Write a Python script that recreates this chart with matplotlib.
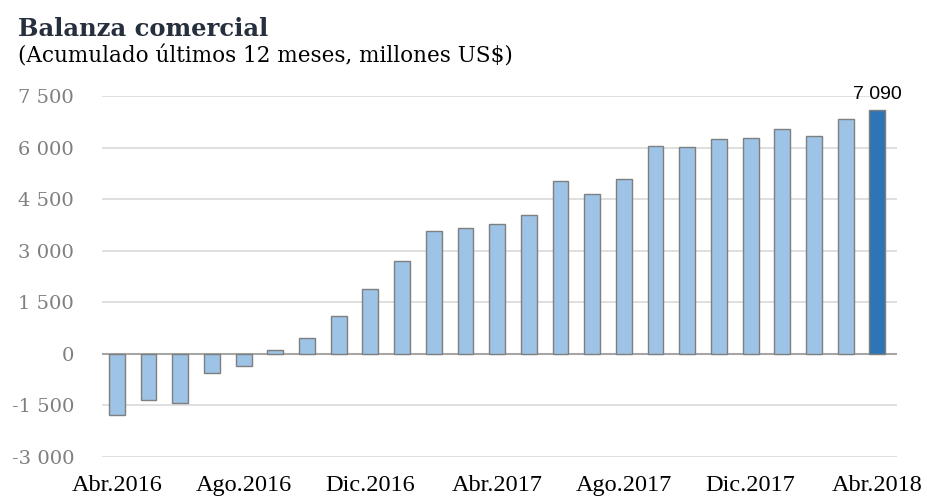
import numpy as np
import matplotlib.pyplot as plt

meses = ["Abr.2016", "May.2016", "Jun.2016", "Jul.2016", "Ago.2016", "Sep.2016",
         "Oct.2016", "Nov.2016", "Dic.2016", "Ene.2017", "Feb.2017", "Mar.2017",
         "Abr.2017", "May.2017", "Jun.2017", "Jul.2017", "Ago.2017", "Sep.2017",
         "Oct.2017", "Nov.2017", "Dic.2017", "Ene.2018", "Feb.2018", "Mar.2018",
         "Abr.2018"]
balanza = [-1785, -1330, -1425, -553, -350, 100, 466, 1090, 1875, 2709,
           3571, 3670, 3775, 4049, 5019, 4660, 5097, 6040, 6012, 6262,
           6274, 6545, 6332, 6845, 7090]
yticks = [-3000, -1500, 0, 1500, 3000, 4500, 6000, 7500]
ytick_labels = ["-3 000", "-1 500", "0", "1 500", "3 000", "4 500", "6 000", "7 500"]

fig = plt.figure(figsize=(9.27, 5.0), dpi=100)
ax = fig.add_axes([0.110, 0.086, 0.858, 0.722])

x = np.arange(len(balanza))
colors = ["#9dc3e6"] * (len(balanza) - 1) + ["#2e75b6"]
ax.bar(x, balanza, width=0.5, color=colors, edgecolor="#7f7f7f", linewidth=1.0, zorder=3)

ax.set_ylim(-3000, 7500)
ax.set_xlim(-0.47, 24.63)
ax.set_yticks(yticks)
ax.set_yticklabels(ytick_labels, fontfamily="DejaVu Serif", fontsize=14, color="#7f7f7f")
ax.set_xticks(x[::4])
ax.set_xticklabels(meses[::4], fontfamily="Liberation Serif", fontsize=17.5, color="black")
ax.tick_params(length=0, axis="both")
ax.tick_params(axis="y", pad=20)
ax.tick_params(axis="x", pad=13)

ax.grid(axis="y", color="#d9d9d9", linewidth=1.2, zorder=0)
ax.axhline(0, color="#a6a6a6", linewidth=1.5, zorder=2)
for s in ax.spines.values():
    s.set_visible(False)

ax.text(x[-1], balanza[-1] + 220, "7 090", ha="center", va="bottom",
        fontfamily="Liberation Sans", fontsize=14, color="black")

fig.text(0.019, 0.928, "Balanza comercial", fontfamily="DejaVu Serif",
         fontweight="bold", fontsize=17.5, color="#262f3d", va="baseline")
fig.text(0.019, 0.876, "(Acumulado últimos 12 meses, millones US$)",
         fontfamily="DejaVu Serif", fontsize=15.5, color="black", va="baseline")

fig.savefig("out.png", dpi=100)
